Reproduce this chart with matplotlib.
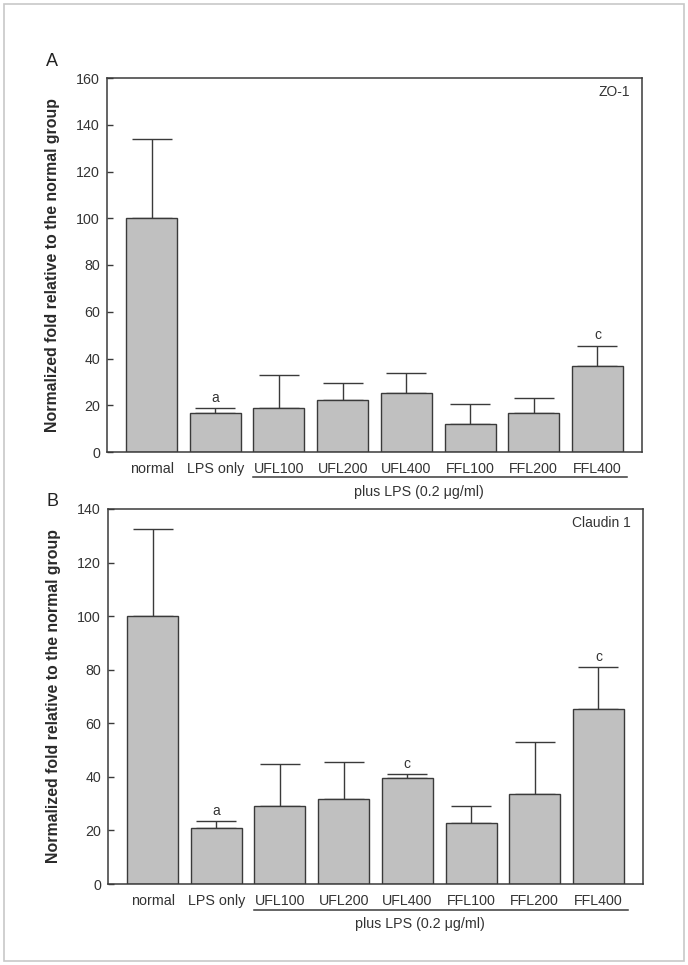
import matplotlib
matplotlib.use("Agg")
import matplotlib.pyplot as plt
import matplotlib.transforms as mtransforms
from matplotlib.patches import Rectangle

plt.rcParams['font.family'] = ['Liberation Sans', 'DejaVu Sans']

groups = ['normal', 'LPS only', 'UFL100', 'UFL200', 'UFL400', 'FFL100', 'FFL200', 'FFL400']

# panel A: ZO-1 (bar mean and top of error bar)
zo1_mean = [100, 16.8, 18.7, 22.2, 25.3, 11.8, 16.5, 36.8]
zo1_top = [134, 18.7, 33.0, 29.6, 33.9, 20.5, 23.0, 45.4]
zo1_sig = ['', 'a', '', '', '', '', '', 'c']

# panel B: Claudin 1
cld_mean = [100, 20.8, 29.0, 31.6, 39.6, 22.6, 33.6, 65.2]
cld_top = [132.5, 23.4, 44.8, 45.5, 41.0, 29.3, 53.0, 80.9]
cld_sig = ['', 'a', '', '', 'c', '', '', 'c']

W, H = 688, 965
fig = plt.figure(figsize=(W / 100, H / 100), dpi=100)

# light grey frame around the figure
fig.patches.append(Rectangle((3.5 / W, 1 - 961 / H), 680.5 / W, 957 / H,
                             transform=fig.transFigure, fill=False,
                             edgecolor='#c8c8c8', linewidth=1.2))

txt = '#333333'
edge = '#3a3a3a'


def panel(rect, means, tops, sig, ymax, yticks, name, letter, letter_y):
    ax = fig.add_axes(rect)
    x = list(range(len(groups)))
    errs = [t - m for t, m in zip(tops, means)]
    ax.bar(x, means, width=0.8, color='#c0c0c0', edgecolor=edge, linewidth=1.0, zorder=2)
    ax.errorbar(x, means, yerr=[[0] * len(errs), errs], fmt='none', ecolor=edge,
                elinewidth=1.0, capsize=14.5, capthick=1.0, zorder=1)
    for i, s in enumerate(sig):
        if s:
            ax.annotate(s, (i, tops[i]), xytext=(0, 7.5), textcoords='offset points',
                        ha='center', va='center', fontsize=10, color=txt)
    ax.set_xlim(-0.7, 7.7)
    ax.set_ylim(0, ymax)
    ax.set_yticks(yticks)
    ax.set_xticks(x)
    ax.set_xticklabels(groups, fontsize=10.3, color=txt)
    ax.tick_params(axis='y', direction='in', length=4, width=1.0, color=edge,
                   labelsize=10.3, labelcolor=txt, pad=5)
    ax.tick_params(axis='x', length=0, pad=7)
    for sp in ax.spines.values():
        sp.set_color(edge)
        sp.set_linewidth(1.1)
    ax.set_ylabel('Normalized fold relative to the normal group', fontsize=11.4,
                  fontweight='bold', color='#2a2a2a')
    ax.yaxis.set_label_coords(-0.088, 0.5)
    ax.text(0.977, 0.962, name, transform=ax.transAxes, ha='right', va='center',
            fontsize=10, color=txt)
    # underline below LPS-treated groups
    tr = mtransforms.blended_transform_factory(ax.transData, ax.transAxes)
    ax.plot([1.6, 7.46], [-0.068, -0.068], transform=tr, color=edge, linewidth=1.1,
            clip_on=False)
    ax.text(4.2, -0.106, 'plus LPS (0.2 \u03bcg/ml)', transform=tr, ha='center',
            va='center', fontsize=10.3, color=txt)
    fig.text(52 / W, 1 - letter_y / H, letter, ha='center', va='center',
             fontsize=13, color='#222222')
    return ax


panel([107 / W, 1 - 452 / H, 535 / W, 374 / H], zo1_mean, zo1_top, zo1_sig,
      160, range(0, 161, 20), 'ZO-1', 'A', 61)
panel([108 / W, 1 - 884 / H, 535 / W, 375 / H], cld_mean, cld_top, cld_sig,
      140, range(0, 141, 20), 'Claudin 1', 'B', 501)

fig.savefig('out.png', dpi=100)
